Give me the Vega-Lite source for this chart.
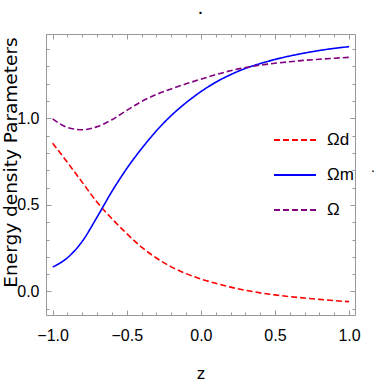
{
  "$schema": "https://vega.github.io/schema/vega-lite/v6.json",
  "width": 309,
  "height": 281,
  "autosize": "none",
  "padding": {"left": 46, "top": 34, "right": 27, "bottom": 67},
  "title": {"text": ".", "fontSize": 14, "offset": 17, "color": "black"},
  "config": {
    "view": {"stroke": "#999999", "strokeWidth": 1},
    "axis": {"grid": false, "domain": false, "tickColor": "#999999", "labelFont": "Liberation Sans Narrow, Liberation Sans", "labelFontSize": 16, "labelColor": "black", "titleColor": "black", "titleFontWeight": "normal"},
    "legend": {"orient": "none", "legendX": 227, "legendY": 84, "symbolType": "stroke", "symbolSize": 1764, "symbolStrokeWidth": 2, "labelFontSize": 17, "labelFont": "Liberation Sans", "labelColor": "black", "padding": 0, "rowPadding": 5, "labelOffset": 10}
  },
  "data": {"values": [
    {"z": -1.0, "v": 0.856, "s": "Ωd"}, {"z": -0.9, "v": 0.745, "s": "Ωd"}, {"z": -0.8, "v": 0.63, "s": "Ωd"}, {"z": -0.7, "v": 0.515, "s": "Ωd"}, {"z": -0.6, "v": 0.42, "s": "Ωd"}, {"z": -0.5, "v": 0.334, "s": "Ωd"}, {"z": -0.4, "v": 0.256, "s": "Ωd"}, {"z": -0.3, "v": 0.193, "s": "Ωd"}, {"z": -0.2, "v": 0.142, "s": "Ωd"}, {"z": -0.1, "v": 0.103, "s": "Ωd"}, {"z": 0.0, "v": 0.072, "s": "Ωd"}, {"z": 0.1, "v": 0.047, "s": "Ωd"}, {"z": 0.2, "v": 0.025, "s": "Ωd"}, {"z": 0.3, "v": 0.007, "s": "Ωd"}, {"z": 0.4, "v": -0.008, "s": "Ωd"}, {"z": 0.5, "v": -0.02, "s": "Ωd"}, {"z": 0.6, "v": -0.03, "s": "Ωd"}, {"z": 0.7, "v": -0.038, "s": "Ωd"}, {"z": 0.8, "v": -0.046, "s": "Ωd"}, {"z": 0.9, "v": -0.053, "s": "Ωd"}, {"z": 1.0, "v": -0.059, "s": "Ωd"},
    {"z": -1.0, "v": 0.141, "s": "Ωm"}, {"z": -0.9, "v": 0.195, "s": "Ωm"}, {"z": -0.8, "v": 0.29, "s": "Ωm"}, {"z": -0.7, "v": 0.43, "s": "Ωm"}, {"z": -0.6, "v": 0.578, "s": "Ωm"}, {"z": -0.5, "v": 0.71, "s": "Ωm"}, {"z": -0.4, "v": 0.825, "s": "Ωm"}, {"z": -0.3, "v": 0.928, "s": "Ωm"}, {"z": -0.2, "v": 1.016, "s": "Ωm"}, {"z": -0.1, "v": 1.09, "s": "Ωm"}, {"z": 0.0, "v": 1.154, "s": "Ωm"}, {"z": 0.1, "v": 1.208, "s": "Ωm"}, {"z": 0.2, "v": 1.252, "s": "Ωm"}, {"z": 0.3, "v": 1.288, "s": "Ωm"}, {"z": 0.4, "v": 1.316, "s": "Ωm"}, {"z": 0.5, "v": 1.34, "s": "Ωm"}, {"z": 0.6, "v": 1.36, "s": "Ωm"}, {"z": 0.7, "v": 1.377, "s": "Ωm"}, {"z": 0.8, "v": 1.392, "s": "Ωm"}, {"z": 0.9, "v": 1.404, "s": "Ωm"}, {"z": 1.0, "v": 1.414, "s": "Ωm"},
    {"z": -1.0, "v": 0.997, "s": "Ω"}, {"z": -0.9, "v": 0.947, "s": "Ω"}, {"z": -0.8, "v": 0.934, "s": "Ω"}, {"z": -0.7, "v": 0.952, "s": "Ω"}, {"z": -0.6, "v": 0.992, "s": "Ω"}, {"z": -0.5, "v": 1.046, "s": "Ω"}, {"z": -0.4, "v": 1.097, "s": "Ω"}, {"z": -0.3, "v": 1.138, "s": "Ω"}, {"z": -0.2, "v": 1.17, "s": "Ω"}, {"z": -0.1, "v": 1.199, "s": "Ω"}, {"z": 0.0, "v": 1.226, "s": "Ω"}, {"z": 0.1, "v": 1.252, "s": "Ω"}, {"z": 0.2, "v": 1.275, "s": "Ω"}, {"z": 0.3, "v": 1.293, "s": "Ω"}, {"z": 0.4, "v": 1.307, "s": "Ω"}, {"z": 0.5, "v": 1.318, "s": "Ω"}, {"z": 0.6, "v": 1.327, "s": "Ω"}, {"z": 0.7, "v": 1.335, "s": "Ω"}, {"z": 0.8, "v": 1.341, "s": "Ω"}, {"z": 0.9, "v": 1.347, "s": "Ω"}, {"z": 1.0, "v": 1.352, "s": "Ω"}
  ]},
  "layer": [
    {
      "mark": {"type": "line", "interpolate": "monotone", "strokeWidth": 1.6},
      "encoding": {
        "x": {"field": "z", "type": "quantitative", "scale": {"domain": [-1.045, 1.04], "nice": false, "zero": false},
          "axis": {"orient": "bottom", "title": "z", "titleFont": "Liberation Sans", "titleFontSize": 17, "titlePadding": 22,
            "values": [-1, -0.9, -0.8, -0.7, -0.6, -0.5, -0.4, -0.3, -0.2, -0.1, 0, 0.1, 0.2, 0.3, 0.4, 0.5, 0.6, 0.7, 0.8, 0.9, 1],
            "labelExpr": "abs(datum.value*2 - round(datum.value*2)) < 0.001 ? format(datum.value, '.1f') : ''",
            "tickSize": {"condition": {"test": "abs(datum.value*2 - round(datum.value*2)) < 0.001", "value": -5}, "value": -3},
            "labelPadding": 17, "labelFlush": false}},
        "y": {"field": "v", "type": "quantitative", "scale": {"domain": [-0.136, 1.487], "nice": false, "zero": false},
          "axis": {"orient": "left", "title": "Energy density Parameters", "titleFont": "DejaVu Sans", "titleFontSize": 18.5, "titleX": -26, "titleY": 128, "titleBaseline": "bottom", "titleAngle": -90,
            "values": [-0.1, 0, 0.1, 0.2, 0.3, 0.4, 0.5, 0.6, 0.7, 0.8, 0.9, 1, 1.1, 1.2, 1.3, 1.4],
            "labelExpr": "abs(datum.value*2 - round(datum.value*2)) < 0.001 ? format(datum.value, '.1f') : ''",
            "tickSize": {"condition": {"test": "abs(datum.value*2 - round(datum.value*2)) < 0.001", "value": -5}, "value": -3},
            "labelPadding": 12}},
        "color": {"field": "s", "type": "nominal", "scale": {"domain": ["Ωd", "Ωm", "Ω"], "range": ["#ff0000", "#0000ff", "#800080"]}, "legend": {"title": null}},
        "strokeDash": {"field": "s", "type": "nominal", "scale": {"domain": ["Ωd", "Ωm", "Ω"], "range": [[6, 3], [1, 0], [6, 3]]}, "legend": {"title": null}}
      }
    },
    {
      "mark": {"type": "line", "opacity": 0},
      "encoding": {
        "x": {"field": "z", "type": "quantitative",
          "axis": {"orient": "top", "title": null, "labels": false,
            "values": [-1, -0.9, -0.8, -0.7, -0.6, -0.5, -0.4, -0.3, -0.2, -0.1, 0, 0.1, 0.2, 0.3, 0.4, 0.5, 0.6, 0.7, 0.8, 0.9, 1],
            "tickSize": {"condition": {"test": "abs(datum.value*2 - round(datum.value*2)) < 0.001", "value": -5}, "value": -3}}},
        "y": {"field": "v", "type": "quantitative",
          "axis": {"orient": "right", "title": ".", "titleAngle": 0, "titleFontSize": 14, "titlePadding": 17, "labels": false,
            "values": [-0.1, 0, 0.1, 0.2, 0.3, 0.4, 0.5, 0.6, 0.7, 0.8, 0.9, 1, 1.1, 1.2, 1.3, 1.4],
            "tickSize": {"condition": {"test": "abs(datum.value*2 - round(datum.value*2)) < 0.001", "value": -5}, "value": -3}}},
        "detail": {"field": "s", "type": "nominal"}
      }
    }
  ],
  "resolve": {"axis": {"x": "independent", "y": "independent"}}
}
